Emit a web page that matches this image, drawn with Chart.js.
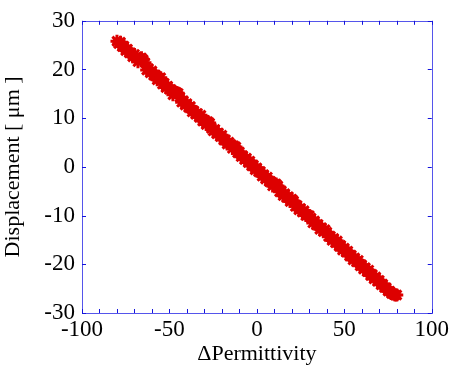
<!DOCTYPE html>
<html>
<head>
<meta charset="utf-8">
<script src="https://cdn.jsdelivr.net/npm/chart.js"></script>
<style>
  html, body { margin: 0; padding: 0; background: #fff; }
  #wrap { width: 452px; height: 367px; }
</style>
</head>
<body>
<div id="wrap"><canvas id="plot" width="452" height="367"></canvas></div>
<script>
let permittivity = [
    -80, -79, -78, -77, -76, -75, -74, -73, -72, -71, -70, -69, -68, -67, -66, -65, -64, -63, -62, -61,
    -60, -59, -58, -57, -56, -55, -54, -53, -52, -51, -50, -49, -48, -47, -46, -45, -44, -43, -42, -41,
    -40, -39, -38, -37, -36, -35, -34, -33, -32, -31, -30, -29, -28, -27, -26, -25, -24, -23, -22, -21,
    -20, -19, -18, -17, -16, -15, -14, -13, -12, -11, -10, -9, -8, -7, -6, -5, -4, -3, -2, -1,
    0, 1, 2, 3, 4, 5, 6, 7, 8, 9, 10, 11, 12, 13, 14, 15, 16, 17, 18, 19,
    20, 21, 22, 23, 24, 25, 26, 27, 28, 29, 30, 31, 32, 33, 34, 35, 36, 37, 38, 39,
    40, 41, 42, 43, 44, 45, 46, 47, 48, 49, 50, 51, 52, 53, 54, 55, 56, 57, 58, 59,
    60, 61, 62, 63, 64, 65, 66, 67, 68, 69, 70, 71, 72, 73, 74, 75, 76, 77, 78, 79, 80
];
let displacement = [
    25.8, 25.3, 25.6, 24.7, 24.8, 23.9, 24.2, 23.4, 23.4, 22.6, 23.1, 22.5, 21.6, 22.2, 22.4, 22.0, 21.4, 19.9, 20.2, 19.3,
    19.7, 18.8, 18.9, 17.9, 18.2, 18.3, 17.0, 17.2, 16.3, 16.6, 15.9, 15.9, 14.8, 15.4, 15.3, 15.1, 14.3, 13.3, 13.6, 12.7,
    13.0, 12.2, 12.4, 11.3, 11.5, 10.8, 11.0, 10.2, 10.6, 9.4, 9.6, 8.7, 9.3, 9.0, 7.9, 7.4, 7.7, 6.8, 7.0, 6.2,
    6.5, 5.5, 5.6, 4.7, 5.1, 4.6, 3.8, 4.3, 4.1, 2.9, 3.1, 2.1, 2.3, 1.5, 1.8, 0.9, 1.2, 0.2, 0.4, -0.6,
    -0.2, -1.0, -0.9, -1.9, -1.6, -2.5, -2.1, -3.0, -3.0, -3.9, -3.5, -3.5, -3.9, -5.1, -4.9, -5.9, -5.5, -6.3, -6.1, -7.1,
    -6.6, -7.0, -8.1, -7.9, -8.8, -8.5, -9.3, -9.0, -10.0, -9.9, -10.0, -10.5, -11.5, -11.1, -11.9, -11.8, -12.8, -12.5, -13.3, -12.9,
    -13.4, -14.3, -14.2, -15.1, -14.7, -15.6, -15.2, -16.3, -16.1, -17.1, -16.7, -17.5, -17.3, -18.3, -18.1, -19.1, -18.7, -19.5, -19.2, -20.3,
    -20.1, -21.0, -20.7, -21.5, -21.2, -22.3, -22.1, -23.0, -22.6, -23.5, -23.3, -24.2, -24.1, -24.8, -24.8, -25.5, -25.5, -26.0, -26.1, -26.3, -26.3
];
let xTickLabels = [-100, -50, 0, 50, 100];
let yTickLabels = [-30, -20, -10, 0, 10, 20, 30];

let axisBlue = 'rgb(85, 85, 235)';
let tickBlue = 'rgb(20, 20, 220)';
let serif = '"Liberation Serif", "Times New Roman", serif';

// 축 박스와 안쪽 눈금을 그리는 플러그인
let boxPlugin = {
    id: 'boxPlugin',
    afterDraw: function(chart) {
        let ctx = chart.ctx;
        let a = chart.chartArea;
        let xs = chart.scales.x;
        let ys = chart.scales.y;
        ctx.save();
        ctx.strokeStyle = axisBlue;
        ctx.lineWidth = 1;
        ctx.strokeRect(Math.round(a.left) + 0.5, Math.round(a.top) + 0.5,
            Math.round(a.right - a.left), Math.round(a.bottom - a.top));
        ctx.strokeStyle = tickBlue;
        ctx.beginPath();
        for (let v = -100; v <= 100; v += 10) {
            let px = Math.round(xs.getPixelForValue(v)) + 0.5;
            ctx.moveTo(px, a.bottom);
            ctx.lineTo(px, a.bottom - 4);
            ctx.moveTo(px, a.top);
            ctx.lineTo(px, a.top + 4);
        }
        for (let v = -30; v <= 30; v += 10) {
            let py = Math.round(ys.getPixelForValue(v)) + 0.5;
            ctx.moveTo(a.left, py);
            ctx.lineTo(a.left + 4, py);
            ctx.moveTo(a.right, py);
            ctx.lineTo(a.right - 4, py);
        }
        ctx.stroke();
        ctx.restore();
    }
};

let points = permittivity.map(function(x, i) {
    return { x: x, y: displacement[i] };
});

let ctx = document.getElementById('plot').getContext('2d');
let chart = new Chart(ctx, {
    type: 'scatter',
    data: {
        datasets: [{
            data: points,
            pointStyle: 'star',
            pointRadius: 6.5,
            borderWidth: 3,
            borderColor: 'rgb(221, 0, 0)',
            backgroundColor: 'rgb(221, 0, 0)'
        }]
    },
    options: {
        responsive: false,
        animation: false,
        events: [],
        layout: { padding: { left: 0, right: 18, top: 20, bottom: 0 } },
        plugins: {
            legend: { display: false },
            tooltip: { enabled: false }
        },
        scales: {
            x: {
                type: 'linear',
                min: -100,
                max: 100,
                afterFit: function(scale) { scale.height = 54; },
                afterBuildTicks: function(scale) {
                    scale.ticks = xTickLabels.map(function(v) { return { value: v }; });
                },
                grid: { display: false, drawTicks: false },
                border: { display: false },
                ticks: {
                    padding: 3,
                    maxRotation: 0,
                    autoSkip: false,
                    color: '#000',
                    font: { family: serif, size: 23 }
                },
                title: {
                    display: true,
                    text: 'ΔPermittivity',
                    color: '#000',
                    padding: { top: 0, bottom: 0 },
                    font: { family: serif, size: 22 }
                }
            },
            y: {
                type: 'linear',
                min: -30,
                max: 30,
                afterFit: function(scale) { scale.width = 82; },
                afterBuildTicks: function(scale) {
                    scale.ticks = yTickLabels.map(function(v) { return { value: v }; });
                },
                grid: { display: false, drawTicks: false },
                border: { display: false },
                ticks: {
                    padding: 7,
                    autoSkip: false,
                    color: '#000',
                    font: { family: serif, size: 23 }
                },
                title: {
                    display: true,
                    text: 'Displacement [ μm ]',
                    color: '#000',
                    padding: { top: 0, bottom: 0 },
                    font: { family: serif, size: 22 }
                }
            }
        }
    },
    plugins: [boxPlugin]
});
</script>
</body>
</html>
